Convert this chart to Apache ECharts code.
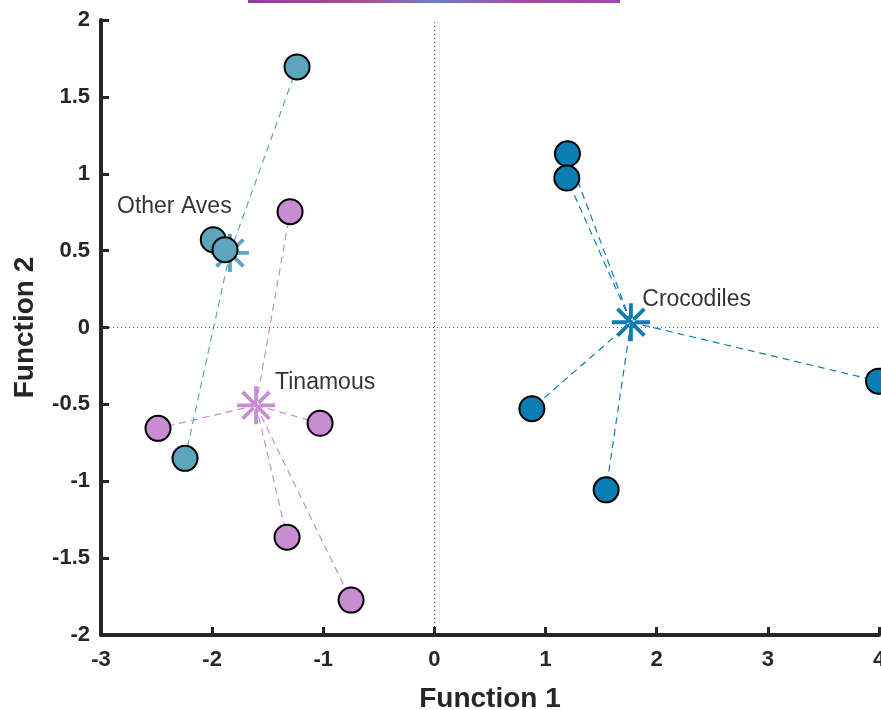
<!DOCTYPE html>
<html>
<head>
<meta charset="utf-8">
<script src="https://cdn.jsdelivr.net/npm/echarts@6/dist/echarts.min.js"></script>
<style>
html,body{margin:0;padding:0;background:#fff;}
#chart{width:881px;height:710px;}
</style>
</head>
<body>
<div id="chart"></div>
<script>
// ---- data ----
const groupNames = ['Other Aves', 'Tinamous', 'Crocodiles'];
const otherAvesX = [-1.236, -1.990, -1.884, -2.244];
const otherAvesY = [1.695, 0.571, 0.506, -0.851];
const otherAvesCentroid = [-1.840, 0.485];
const tinamousX = [-1.299, -2.487, -1.029, -1.326, -0.750];
const tinamousY = [0.753, -0.656, -0.623, -1.364, -1.773];
const tinamousCentroid = [-1.605, -0.506];
const crocodilesX = [1.197, 1.191, 0.877, 1.545, 3.996];
const crocodilesY = [1.130, 0.972, -0.528, -1.056, -0.349];
const crocodilesCentroid = [1.768, 0.034];
const labelX = [-2.856, -1.434, 1.870];
const labelY = [0.787, -0.357, 0.182];
const xTicks = [-3, -2, -1, 0, 1, 2, 3, 4];
const yTicks = [-2, -1.5, -1, -0.5, 0, 0.5, 1, 1.5, 2];

// ---- styles ----
const colors = ['#5CA5BD', '#C88CD3', '#0B7DB2'];
const FONT = "'Liberation Sans', Arial, Helvetica, sans-serif";
const ASTERISK = 'path://M0 45L100 45L100 55L0 55Z M45 0L55 0L55 100L45 100Z ' +
  'M18.19 11.11L88.89 81.81L81.81 88.89L11.11 18.19Z ' +
  'M18.19 88.89L88.89 18.19L81.81 11.11L11.11 81.81Z';

const groups = [
  {x: otherAvesX, y: otherAvesY, c: otherAvesCentroid},
  {x: tinamousX, y: tinamousY, c: tinamousCentroid},
  {x: crocodilesX, y: crocodilesY, c: crocodilesCentroid}
];

const series = [];
// zero reference lines
series.push({
  type: 'line', data: [], silent: true,
  markLine: {
    silent: true, symbol: 'none', label: {show: false},
    lineStyle: {color: '#555', type: [1, 3], width: 1},
    data: [{xAxis: 0}, {yAxis: 0}]
  }
});
// dashed connectors
groups.forEach((g, i) => {
  series.push({
    type: 'lines', coordinateSystem: 'cartesian2d', silent: true,
    lineStyle: {color: colors[i], width: 1.2, type: [7, 5], opacity: 1},
    data: g.x.map((xv, k) => ({coords: [g.c, [xv, g.y[k]]]})),
    z: 2
  });
});
// centroids
groups.forEach((g, i) => {
  series.push({
    type: 'scatter', symbol: ASTERISK, symbolSize: 38,
    itemStyle: {color: colors[i], opacity: 1},
    data: [g.c], z: 3
  });
});
// points
groups.forEach((g, i) => {
  series.push({
    name: groupNames[i], type: 'scatter', symbol: 'circle', symbolSize: 25,
    itemStyle: {color: colors[i], borderColor: '#000', borderWidth: 2, opacity: 1},
    data: g.x.map((xv, k) => [xv, g.y[k]]), z: 4
  });
});
// group labels
series.push({
  type: 'scatter', symbolSize: 0, silent: true, z: 5,
  data: groupNames.map((n, i) => ({value: [labelX[i], labelY[i]], name: n})),
  label: {
    show: true, position: 'right', distance: 0, formatter: p => p.name,
    color: '#000', fontSize: 23, fontFamily: FONT
  }
});

const chart = echarts.init(document.getElementById('chart'));
chart.setOption({
  animation: false,
  backgroundColor: '#fff',
  grid: {left: 101, right: 2, top: 20, bottom: 75, containLabel: false, outerBoundsMode: 'none'},
  xAxis: {
    type: 'value', min: xTicks[0], max: xTicks[xTicks.length - 1], interval: 1,
    name: 'Function 1', nameLocation: 'middle', nameGap: 50,
    nameTextStyle: {fontSize: 28, fontWeight: 'bold', color: '#262626', fontFamily: FONT},
    axisLine: {show: true, onZero: false, lineStyle: {color: '#262626', width: 4}},
    axisTick: {show: true, inside: true, length: 8, lineStyle: {color: '#262626', width: 3}},
    axisLabel: {fontSize: 22, fontWeight: 'bold', color: '#262626', fontFamily: FONT, margin: 14},
    splitLine: {show: false}
  },
  yAxis: {
    type: 'value', min: yTicks[0], max: yTicks[yTicks.length - 1], interval: 0.5,
    name: 'Function 2', nameLocation: 'middle', nameGap: 62, nameRotate: 90,
    nameTextStyle: {fontSize: 28, fontWeight: 'bold', color: '#262626', fontFamily: FONT},
    axisLine: {show: true, onZero: false, lineStyle: {color: '#262626', width: 4}},
    axisTick: {show: true, inside: true, length: 8, lineStyle: {color: '#262626', width: 3}},
    axisLabel: {fontSize: 22, fontWeight: 'bold', color: '#262626', fontFamily: FONT, margin: 11},
    splitLine: {show: false}
  },
  graphic: [{
    type: 'rect', left: 248, top: 0, silent: true,
    shape: {width: 372, height: 3},
    style: {fill: new echarts.graphic.LinearGradient(0, 0, 1, 0, [
      {offset: 0, color: '#8E3FA0'}, {offset: 0.3, color: '#B04A8E'},
      {offset: 0.5, color: '#6E7FC0'}, {offset: 0.75, color: '#A44C9C'},
      {offset: 1, color: '#9C4AA8'}
    ])}
  }],
  series: series
});
</script>
</body>
</html>
